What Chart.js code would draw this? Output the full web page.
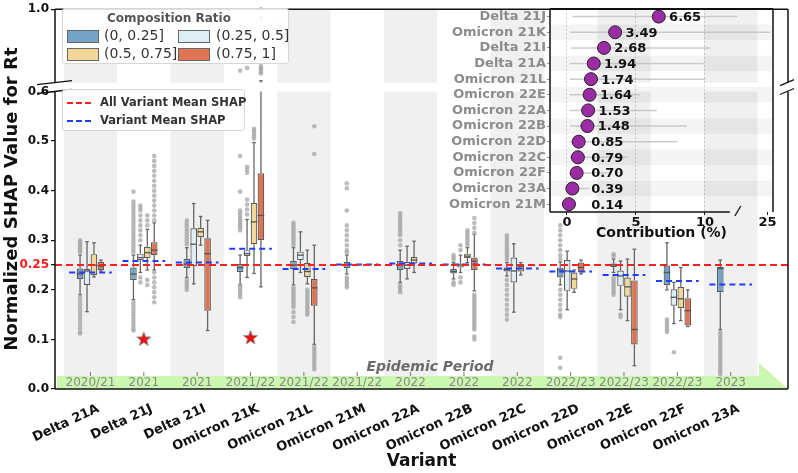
<!DOCTYPE html>
<html>
<head>
<meta charset="utf-8">
<script src="https://cdn.jsdelivr.net/npm/chart.js@4.4.1/dist/chart.umd.min.js"></script>
<style>
  body { margin: 0; background: #fff; font-family: 'DejaVu Sans', sans-serif; }
  #wrap { position: relative; width: 798px; height: 473px; }
  #main { position: absolute; left: 0; top: 0; }
  #inset { position: absolute; left: 430px; top: 0; }
  .leg { position: absolute; background: rgba(255,255,255,0.88); border: 1px solid #d6d6d6; border-radius: 3px; }
  .leg span { position: absolute; white-space: nowrap; }
  .sw { width: 30px; height: 11px; border: 1.3px solid #666; }
</style>
</head>
<body>
<div id="wrap">
  <canvas id="main" width="798" height="473"></canvas>
  <canvas id="inset" width="368" height="243"></canvas>

  <div class="leg" style="left:62px; top:8px; width:225px; height:54px;">
    <span style="left:44px; top:2px; font-weight:bold; font-size:12px; color:#555;">Composition Ratio</span>
    <span class="sw" style="left:4px; top:21px; background:#74a3c9;"></span>
    <span style="left:41px; top:18px; font-size:14px; color:#333;">(0, 0.25]</span>
    <span class="sw" style="left:115px; top:21px; background:#deeef5;"></span>
    <span style="left:153px; top:18px; font-size:14px; color:#333;">(0.25, 0.5]</span>
    <span class="sw" style="left:4px; top:39px; background:#f2d796;"></span>
    <span style="left:41px; top:36px; font-size:14px; color:#333;">(0.5, 0.75]</span>
    <span class="sw" style="left:115px; top:39px; background:#df7453;"></span>
    <span style="left:153px; top:36px; font-size:14px; color:#333;">(0.75, 1]</span>
  </div>

  <div class="leg" style="left:62px; top:89px; width:181px; height:40px;">
    <svg style="position:absolute; left:4px; top:11px;" width="26" height="4"><line x1="0" y1="2" x2="26" y2="2" stroke="#ff2020" stroke-width="2" stroke-dasharray="6,3"/></svg>
    <span style="left:37px; top:5px; font-weight:bold; font-size:11.5px; color:#333;">All Variant Mean SHAP</span>
    <svg style="position:absolute; left:4px; top:29px;" width="26" height="4"><line x1="0" y1="2" x2="26" y2="2" stroke="#1f3cff" stroke-width="2" stroke-dasharray="6,3"/></svg>
    <span style="left:37px; top:23px; font-weight:bold; font-size:11.5px; color:#333;">Variant Mean SHAP</span>
  </div>
</div>

<script>
// ---- data ----
const variants = ['Delta 21A', 'Delta 21J', 'Delta 21I', 'Omicron 21K', 'Omicron 21L', 'Omicron 21M',
  'Omicron 22A', 'Omicron 22B', 'Omicron 22C', 'Omicron 22D', 'Omicron 22E', 'Omicron 22F', 'Omicron 23A'];
const periods = ['2020/21', '2021', '2021', '2021/22', '2021/22', '2021/22', '2022', '2022', '2022',
  '2022/23', '2022/23', '2022/23', '2023'];
const ratioLabels = ['(0, 0.25]', '(0.25, 0.5]', '(0.5, 0.75]', '(0.75, 1]'];

// box stats per variant: [lower whisker, q1, median, q3, upper whisker]
const blueBoxes = [
  [0.19, 0.222, 0.232, 0.243, 0.27], [0.18, 0.22, 0.232, 0.245, 0.27], [0.225, 0.244, 0.252, 0.262, 0.285],
  [0.21, 0.236, 0.245, 0.252, 0.27], [0.21, 0.242, 0.25, 0.258, 0.285], [0.232, 0.244, 0.25, 0.256, 0.27],
  [0.215, 0.24, 0.25, 0.258, 0.28], [0.222, 0.233, 0.237, 0.242, 0.255], [0.228, 0.237, 0.241, 0.245, 0.255],
  [0.21, 0.225, 0.24, 0.245, 0.256], [0.235, 0.246, 0.25, 0.253, 0.262], [0.2, 0.21, 0.235, 0.249, 0.295],
  [0.12, 0.195, 0.243, 0.246, 0.26]
];
const lightBoxes = [
  [0.156, 0.21, 0.238, 0.242, 0.297], [0.235, 0.26, 0.265, 0.273, 0.29], [0.212, 0.248, 0.292, 0.324, 0.374],
  [0.225, 0.268, 0.273, 0.28, 0.342], [0.235, 0.26, 0.27, 0.277, 0.317], null,
  [0.222, 0.242, 0.25, 0.256, 0.288], [0.235, 0.245, 0.25, 0.253, 0.27], [0.155, 0.215, 0.238, 0.265, 0.293],
  [0.16, 0.198, 0.238, 0.26, 0.278], [0.16, 0.208, 0.228, 0.239, 0.258], [0.132, 0.168, 0.185, 0.201, 0.215],
  null
];
const yellowBoxes = [
  [0.226, 0.23, 0.25, 0.272, 0.295], [0.24, 0.264, 0.275, 0.287, 0.322], [0.29, 0.306, 0.317, 0.325, 0.348],
  [0.233, 0.292, 0.337, 0.375, 0.497], [0.212, 0.226, 0.237, 0.254, 0.28], null,
  [0.235, 0.253, 0.26, 0.266, 0.298], [0.255, 0.264, 0.268, 0.273, 0.285], [0.23, 0.237, 0.243, 0.248, 0.255],
  [0.195, 0.202, 0.222, 0.235, 0.24], [0.138, 0.186, 0.206, 0.225, 0.262], [0.138, 0.163, 0.182, 0.206, 0.245],
  null
];
const orangeBoxes = [
  [0.238, 0.24, 0.248, 0.256, 0.26], [0.24, 0.27, 0.28, 0.296, 0.335], [0.118, 0.158, 0.273, 0.304, 0.34],
  [0.206, 0.30, 0.35, 0.435, 0.61], [0.09, 0.168, 0.204, 0.222, 0.29], null,
  null, [0.198, 0.24, 0.258, 0.265, 0.312], null,
  [0.232, 0.235, 0.245, 0.255, 0.26], [0.047, 0.09, 0.12, 0.219, 0.282], [0.126, 0.128, 0.158, 0.183, 0.2],
  null
];

// outlier dots per variant
const blueOut = [
  [0.300, 0.296, 0.292, 0.288, 0.284, 0.28, 0.276, 0.185, 0.178, 0.171, 0.164, 0.157, 0.15, 0.143, 0.136, 0.129, 0.122, 0.115, 0.112],
  [0.398, 0.378, 0.372, 0.366, 0.36, 0.354, 0.348, 0.342, 0.336, 0.33, 0.324, 0.318, 0.312, 0.306, 0.3, 0.294, 0.288, 0.282, 0.276,
   0.175, 0.169, 0.163, 0.157, 0.151, 0.145, 0.139, 0.133, 0.127, 0.121, 0.118],
  [0.34, 0.334, 0.328, 0.322, 0.316, 0.31, 0.304, 0.298, 0.292, 0.22, 0.215, 0.21, 0.205, 0.2],
  [0.665, 0.47, 0.398, 0.36, 0.355, 0.35, 0.345, 0.34, 0.335, 0.33, 0.325, 0.32, 0.21, 0.205, 0.2, 0.195, 0.19, 0.185],
  [0.335, 0.33, 0.325, 0.32, 0.315, 0.31, 0.305, 0.3, 0.295, 0.29, 0.205, 0.2, 0.195, 0.19, 0.185, 0.18, 0.175, 0.17, 0.165, 0.155, 0.145, 0.135],
  [0.415, 0.405, 0.36, 0.33, 0.32, 0.31, 0.3, 0.29, 0.28, 0.275, 0.225, 0.22, 0.215, 0.21, 0.205],
  [0.355, 0.35, 0.345, 0.34, 0.335, 0.33, 0.325, 0.32, 0.315, 0.31, 0.3, 0.29, 0.21, 0.205, 0.2, 0.195],
  [0.27, 0.265, 0.26, 0.215, 0.21],
  [0.31, 0.305, 0.3, 0.295, 0.29, 0.285, 0.28, 0.275, 0.27, 0.265, 0.26, 0.22, 0.21, 0.2, 0.19, 0.18, 0.17, 0.16, 0.15, 0.14],
  [0.33, 0.32, 0.31, 0.3, 0.29, 0.28, 0.27, 0.262, 0.2, 0.19, 0.18, 0.17, 0.16, 0.15, 0.145, 0.063, 0.043],
  [0.272, 0.268, 0.225, 0.22, 0.215, 0.21, 0.205, 0.2, 0.195, 0.19],
  [0.14, 0.135, 0.13, 0.125, 0.12, 0.115],
  [0.115, 0.11, 0.105, 0.1, 0.095, 0.09, 0.085, 0.08, 0.075, 0.07, 0.065, 0.06, 0.055, 0.05, 0.045, 0.04, 0.035, 0.03]
];
const lightOut = [
  [], [0.37, 0.365, 0.36, 0.35, 0.34, 0.33, 0.32, 0.31, 0.3, 0.225, 0.215], [],
  [0.68, 0.448, 0.442, 0.436, 0.382, 0.372, 0.362, 0.352], [], [],
  [], [0.29, 0.28, 0.225, 0.215], [], [], [0.15, 0.145], [0.074], []
];
const yellowOut = [
  [], [0.35, 0.34, 0.33, 0.22, 0.21], [], [0.525, 0.52, 0.515, 0.51, 0.505],
  [0.2, 0.195, 0.19, 0.185, 0.18, 0.175, 0.17, 0.165, 0.16, 0.155, 0.15], [], [],
  [0.32, 0.315, 0.31, 0.305, 0.3, 0.295, 0.29], [], [], [], [], []
];
const orangeOut = [
  [],
  [0.47, 0.46, 0.45, 0.44, 0.43, 0.42, 0.41, 0.4, 0.39, 0.38, 0.37, 0.36, 0.35, 0.34, 0.235, 0.225, 0.215, 0.205, 0.195, 0.185, 0.175],
  [],
  [1.0, 0.95, 0.69, 0.68, 0.67, 0.66, 0.65],
  [0.53, 0.474, 0.085, 0.08, 0.075, 0.07, 0.065, 0.06, 0.055, 0.05, 0.045, 0.04],
  [], [],
  [0.345, 0.335, 0.325, 0.315, 0.19, 0.185, 0.18, 0.175, 0.17, 0.165, 0.16, 0.155, 0.15, 0.145, 0.14, 0.135, 0.13, 0.125, 0.12, 0.106, 0.1],
  [], [], [], [], []
];

const variantMean = [0.235, 0.258, 0.255, 0.283, 0.242, 0.251, 0.253, 0.251, 0.243, 0.237, 0.23, 0.218, 0.211];
const allMean = 0.25;
const starIdx = [1, 3];
const starVals = [0.1, 0.103];
const yTicks = [0, 0.1, 0.2, 0.25, 0.3, 0.4, 0.5, 0.6, 1.0];

// inset: contribution (%)
const insetNames = ['Delta 21J', 'Omicron 21K', 'Delta 21I', 'Delta 21A', 'Omicron 21L', 'Omicron 22E', 'Omicron 22A',
  'Omicron 22B', 'Omicron 22D', 'Omicron 22C', 'Omicron 22F', 'Omicron 23A', 'Omicron 21M'];
const insetValues = [6.65, 3.49, 2.68, 1.94, 1.74, 1.64, 1.53, 1.48, 0.85, 0.79, 0.70, 0.39, 0.14];
const insetLo = [0.4, 0.2, 0.3, 0.2, 0.2, 0.2, 0.2, 0.2, 0.2, 0.2, 0.2, 0.1, 0.05];
const insetHi = [20, 25.2, 10.4, 9.9, 10.0, 5.3, 6.5, 8.7, 8.0, 4.4, 3.0, 1.6, 0.6];
const insetTicks = [0, 5, 10, 25];

// ---- broken linear scale (piecewise value -> pixel) ----
const breaks = {
  'main:y': { vals: [0, 0.6, 0.6001, 1.0], decs: [0, 300 / 383, 309 / 383, 1] },
  'inset:x': { vals: [-1.232, 11.8, 23.0, 25.4], decs: [0, 179.8 / 223, 190 / 223, 1] }
};
function seg(from, to, v) {
  for (let k = 1; k < from.length; k++) {
    if (v <= from[k] || k === from.length - 1) {
      return to[k - 1] + (v - from[k - 1]) / (from[k] - from[k - 1]) * (to[k] - to[k - 1]);
    }
  }
}
class BrokenScale extends Chart.LinearScale {
  getPixelForValue(value) {
    if (value === null || value === undefined) return NaN;
    const b = breaks[this.chart.canvas.id + ':' + this.id];
    return this.getPixelForDecimal(seg(b.vals, b.decs, value));
  }
  getValueForPixel(pixel) {
    const b = breaks[this.chart.canvas.id + ':' + this.id];
    let d = (pixel - this._startPixel) / this._length;
    if (this._reversePixels) d = 1 - d;
    return seg(b.decs, b.vals, d);
  }
}
BrokenScale.id = 'broken';
BrokenScale.defaults = Chart.LinearScale.defaults;
Chart.register(BrokenScale);

Chart.defaults.font.family = "'DejaVu Sans', sans-serif";

const groups = [
  { label: ratioLabels[0], boxes: blueBoxes, out: blueOut, color: '#74a3c9' },
  { label: ratioLabels[1], boxes: lightBoxes, out: lightOut, color: '#deeef5' },
  { label: ratioLabels[2], boxes: yellowBoxes, out: yellowOut, color: '#f2d796' },
  { label: ratioLabels[3], boxes: orangeBoxes, out: orangeOut, color: '#df7453' }
];
const BRK = 0.6;

function line(ctx, x0, y0, x1, y1) {
  ctx.beginPath(); ctx.moveTo(x0, y0); ctx.lineTo(x1, y1); ctx.stroke();
}
// vertical segment that jumps the axis break
function vseg(ctx, y, px, v0, v1) {
  if (v0 <= BRK && v1 > BRK) {
    line(ctx, px, y.getPixelForValue(v0), px, y.getPixelForValue(BRK));
    line(ctx, px, y.getPixelForValue(BRK + 0.0002), px, y.getPixelForValue(v1));
  } else {
    line(ctx, px, y.getPixelForValue(v0), px, y.getPixelForValue(v1));
  }
}
function star(ctx, cx, cy, R, r) {
  ctx.beginPath();
  for (let k = 0; k < 10; k++) {
    const a = -Math.PI / 2 + k * Math.PI / 5, rr = k % 2 ? r : R;
    ctx.lineTo(cx + rr * Math.cos(a), cy + rr * Math.sin(a));
  }
  ctx.closePath(); ctx.fill(); ctx.stroke();
}

// boxes are floating bars; whiskers, medians, outliers, bands and lines drawn here
const boxPlugin = {
  id: 'boxExtras',
  beforeDatasetsDraw(chart) {
    const { ctx, chartArea: a, scales: { x, y } } = chart;
    const yLow = y.getPixelForValue(BRK), yUp = y.getPixelForValue(BRK + 0.0002);
    ctx.save();
    // alternating vertical bands
    ctx.fillStyle = '#f0f0f0';
    variants.forEach((v, i) => {
      if (i % 2) return;
      const l = x.getPixelForValue(i - 0.5), r = x.getPixelForValue(i + 0.5);
      ctx.fillRect(l, a.top, r - l, yUp - a.top);
      ctx.fillRect(l, yLow, r - l, a.bottom - yLow);
    });
    // epidemic period arrow
    ctx.fillStyle = '#ccf7b0';
    ctx.beginPath();
    ctx.moveTo(a.left + 2, a.bottom - 13);
    ctx.lineTo(a.right - 29, a.bottom - 13);
    ctx.lineTo(a.right - 29, a.bottom - 26);
    ctx.lineTo(a.right, a.bottom);
    ctx.lineTo(a.left + 2, a.bottom);
    ctx.closePath(); ctx.fill();
    ctx.strokeStyle = '#777'; ctx.lineWidth = 1;
    ctx.fillStyle = '#888'; ctx.font = "12px 'DejaVu Sans'";
    ctx.textAlign = 'center'; ctx.textBaseline = 'middle';
    periods.forEach((p, i) => {
      const px = x.getPixelForValue(i);
      line(ctx, px, a.bottom - 17, px, a.bottom - 13);
      ctx.fillText(p, px, a.bottom - 6);
    });
    ctx.fillStyle = '#6b6b6b'; ctx.font = "italic bold 14px 'DejaVu Sans'";
    ctx.fillText('Epidemic Period', a.left + 375, a.bottom - 22);

    // whiskers + outliers
    groups.forEach((g, d) => {
      const meta = chart.getDatasetMeta(d);
      meta.data.forEach((el, j) => {
        const i = chart.data.datasets[d].data[j].x;
        const s = g.boxes[i];
        const cw = el.width * 0.55;
        ctx.strokeStyle = '#666'; ctx.lineWidth = 1.3;
        vseg(ctx, y, el.x, s[3], s[4]);
        vseg(ctx, y, el.x, s[0], s[1]);
        line(ctx, el.x - cw / 2, y.getPixelForValue(s[4]), el.x + cw / 2, y.getPixelForValue(s[4]));
        line(ctx, el.x - cw / 2, y.getPixelForValue(s[0]), el.x + cw / 2, y.getPixelForValue(s[0]));
        ctx.fillStyle = 'rgba(165,165,165,0.75)';
        g.out[i].forEach(v => {
          ctx.beginPath(); ctx.arc(el.x, y.getPixelForValue(v), 2.3, 0, Math.PI * 2); ctx.fill();
        });
      });
    });
    ctx.restore();
  },
  afterDatasetsDraw(chart) {
    const { ctx, chartArea: a, scales: { x, y } } = chart;
    const yLow = y.getPixelForValue(BRK), yUp = y.getPixelForValue(BRK + 0.0002);
    ctx.save();
    // medians
    groups.forEach((g, d) => {
      const meta = chart.getDatasetMeta(d);
      meta.data.forEach((el, j) => {
        const s = g.boxes[chart.data.datasets[d].data[j].x];
        const py = y.getPixelForValue(s[2]);
        ctx.strokeStyle = '#555'; ctx.lineWidth = 1.3;
        line(ctx, el.x - el.width / 2, py, el.x + el.width / 2, py);
      });
    });
    // variant means
    ctx.setLineDash([6, 4]); ctx.lineWidth = 2; ctx.strokeStyle = '#1f3cff';
    variantMean.forEach((m, i) => {
      const py = y.getPixelForValue(m);
      line(ctx, x.getPixelForValue(i - 0.4), py, x.getPixelForValue(i + 0.4), py);
    });
    // overall mean
    ctx.strokeStyle = '#ff2020'; ctx.setLineDash([7, 4]);
    const ym = y.getPixelForValue(allMean);
    line(ctx, a.left, ym, a.right, ym);
    ctx.setLineDash([]);
    // stars
    ctx.fillStyle = '#ee1111'; ctx.strokeStyle = '#999'; ctx.lineWidth = 1;
    starIdx.forEach((i, k) => star(ctx, x.getPixelForValue(i), y.getPixelForValue(starVals[k]), 7.5, 3.2));
    // frame with axis break
    ctx.strokeStyle = '#111'; ctx.lineWidth = 1.5;
    line(ctx, a.left, a.top, a.right, a.top);
    line(ctx, a.left, a.bottom, a.right, a.bottom);
    [a.left, a.right].forEach(px => {
      line(ctx, px, a.top, px, yUp);
      line(ctx, px, yLow, px, a.bottom);
    });
    ctx.lineWidth = 1.3;
    line(ctx, a.left - 18, yUp + 2, a.left + 17, yUp - 2);
    line(ctx, a.left - 18, yLow + 2, a.left + 17, yLow - 2);
    line(ctx, a.right - 8, yUp + 3, a.right + 6, yUp - 3);
    line(ctx, a.right - 8, yLow + 3, a.right + 6, yLow - 3);
    ctx.restore();
  }
};

new Chart(document.getElementById('main'), {
  type: 'bar',
  data: {
    datasets: groups.map(g => ({
      label: g.label,
      data: g.boxes.map((b, i) => b ? { x: i, y: [b[1], b[3]] } : null).filter(Boolean),
      backgroundColor: g.color,
      borderColor: '#5a5a5a',
      borderWidth: 1.2,
      borderSkipped: false
    }))
  },
  options: {
    responsive: false,
    animation: false,
    events: [],
    layout: { padding: { top: 6, right: 10, left: 0, bottom: 0 } },
    datasets: { bar: { categoryPercentage: 0.52, barPercentage: 0.95 } },
    plugins: { legend: { display: false }, tooltip: { enabled: false } },
    scales: {
      x: {
        type: 'linear', min: -0.665, max: 13.074, offset: false,
        afterBuildTicks: s => { s.ticks = variants.map((v, i) => ({ value: i })); },
        afterFit: s => { s.height = 84; },
        grid: { display: false },
        border: { display: false },
        ticks: {
          autoSkip: false, minRotation: 25, maxRotation: 25, labelOffset: 8, padding: 4,
          callback: (v, i) => variants[i],
          font: { weight: 'bold', size: 13 }, color: '#111'
        },
        title: { display: true, text: 'Variant', font: { weight: 'bold', size: 17 }, color: '#111', padding: { top: 0, bottom: 1 } }
      },
      y: {
        type: 'broken', min: 0, max: 1,
        afterBuildTicks: s => { s.ticks = yTicks.map(v => ({ value: v })); },
        afterFit: s => { s.width = 55; },
        grid: { drawOnChartArea: false, tickLength: 4, color: '#111', lineWidth: 1.2 },
        border: { display: false },
        ticks: {
          padding: 2,
          callback: v => v === 0.25 ? '0.25' : v.toFixed(1),
          color: c => (c.tick && c.tick.value === 0.25) ? '#ff1a1a' : '#111',
          font: { weight: 'bold', size: 12 }
        },
        title: { display: true, text: 'Normalized SHAP Value for Rt', font: { weight: 'bold', size: 18 }, color: '#111', padding: { top: 2, bottom: 0 } }
      }
    }
  },
  plugins: [boxPlugin]
});

// ---- inset: contribution dot plot ----
const insetPlugin = {
  id: 'insetExtras',
  beforeDatasetsDraw(chart) {
    const { ctx, chartArea: a, scales: { x, y } } = chart;
    const h = (a.bottom - a.top) / insetNames.length;
    ctx.save();
    ctx.fillStyle = 'rgba(0,0,0,0.045)';
    insetNames.forEach((n, i) => {
      if (i % 2 === 1) ctx.fillRect(a.left, y.getPixelForValue(i) - h / 2, a.right - a.left, h);
    });
    ctx.strokeStyle = 'rgba(190,190,190,0.8)'; ctx.lineWidth = 1.5;
    insetNames.forEach((n, i) => {
      const py = y.getPixelForValue(i);
      line(ctx, x.getPixelForValue(insetLo[i]), py, x.getPixelForValue(insetHi[i]), py);
    });
    ctx.restore();
  },
  afterDatasetsDraw(chart) {
    const { ctx, chartArea: a, scales: { x, y } } = chart;
    ctx.save();
    ctx.fillStyle = '#111'; ctx.font = "bold 13px 'DejaVu Sans'";
    ctx.textAlign = 'left'; ctx.textBaseline = 'middle';
    insetValues.forEach((v, i) => {
      ctx.fillText(v.toFixed(2), x.getPixelForValue(Math.max(v + 0.75, 1.75)), y.getPixelForValue(i) + 1);
    });
    ctx.strokeStyle = '#111'; ctx.lineWidth = 1.5;
    const xb = x.getPixelForValue(11.8);
    line(ctx, a.left, a.top, a.right, a.top);
    line(ctx, a.left, a.top, a.left, a.bottom);
    line(ctx, a.right, a.top, a.right, a.bottom);
    line(ctx, a.left, a.bottom, xb, a.bottom);
    ctx.lineWidth = 1.3;
    line(ctx, xb + 5, a.bottom + 4, xb + 11, a.bottom - 6);
    ctx.restore();
  }
};

new Chart(document.getElementById('inset'), {
  type: 'scatter',
  data: {
    datasets: [{
      data: insetNames.map((n, i) => ({ x: insetValues[i], y: n })),
      pointRadius: 6.5,
      backgroundColor: '#9c2ca6',
      borderColor: '#222',
      borderWidth: 1
    }]
  },
  options: {
    responsive: false,
    animation: false,
    events: [],
    layout: { padding: { top: 5, right: 25, left: 0, bottom: 0 } },
    plugins: { legend: { display: false }, tooltip: { enabled: false } },
    scales: {
      x: {
        type: 'broken', min: -1.232, max: 25.4,
        afterBuildTicks: s => { s.ticks = insetTicks.map(v => ({ value: v })); },
        afterFit: s => { s.height = 31; },
        grid: {
          color: c => (c.tick && c.tick.value === 25) ? 'rgba(0,0,0,0)' : 'rgba(0,0,0,0.2)',
          tickColor: '#111', tickLength: 3
        },
        border: { display: false, dash: [2, 2] },
        ticks: { padding: 0, callback: v => String(v), font: { weight: 'bold', size: 13 }, color: '#111' },
        title: { display: true, text: 'Contribution (%)', font: { weight: 'bold', size: 14 }, color: '#111', padding: { top: 0, bottom: 1 } }
      },
      y: {
        type: 'category', labels: insetNames, offset: true,
        afterFit: s => { s.width = 120; },
        grid: { drawOnChartArea: false, tickLength: 3, tickColor: '#999' },
        border: { display: false },
        ticks: { autoSkip: false, padding: 1, font: { weight: 'bold', size: 13 }, color: '#8c8c8c' }
      }
    }
  },
  plugins: [insetPlugin]
});
</script>
</body>
</html>
